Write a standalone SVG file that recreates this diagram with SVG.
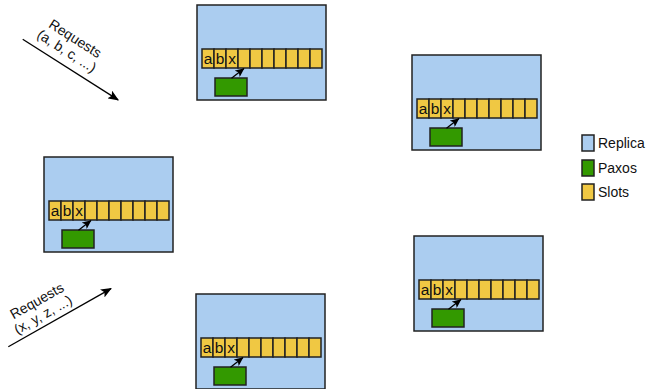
<svg xmlns="http://www.w3.org/2000/svg" width="648" height="389" viewBox="0 0 648 389">
<defs>
<style>
.rep{fill:#abcdf0;stroke:#222;stroke-width:1.5}
.slot{fill:#f0c843;stroke:#222;stroke-width:1.5}
.pax{fill:#339900;stroke:#222;stroke-width:1.5}
.lt{font-family:"Liberation Sans",Arial,sans-serif;font-size:14px;fill:#111}
.st{font-family:"Liberation Sans",Arial,sans-serif;font-size:15.5px;fill:#111;text-anchor:middle}
.ar{stroke:#000;stroke-width:1.3;fill:none}
</style>
<marker id="ah" markerWidth="11" markerHeight="9" refX="10" refY="4.5" orient="auto" markerUnits="userSpaceOnUse">
<path d="M0,0 L11,4.5 L0,9 L2.5,4.5 z" fill="#000"/>
</marker>
<marker id="ahs" markerWidth="9" markerHeight="8" refX="8.5" refY="4" orient="auto" markerUnits="userSpaceOnUse">
<path d="M0,0 L9,4 L0,8 L2,4 z" fill="#000"/>
</marker>
<g id="replicaTpl">
<rect class="rep" x="0" y="0" width="129" height="95"/>
<rect class="slot" x="5" y="44" width="12" height="19"/>
<rect class="slot" x="17" y="44" width="12" height="19"/>
<rect class="slot" x="29" y="44" width="12" height="19"/>
<rect class="slot" x="41" y="44" width="12" height="19"/>
<rect class="slot" x="53" y="44" width="12" height="19"/>
<rect class="slot" x="65" y="44" width="12" height="19"/>
<rect class="slot" x="77" y="44" width="12" height="19"/>
<rect class="slot" x="89" y="44" width="12" height="19"/>
<rect class="slot" x="101" y="44" width="12" height="19"/>
<rect class="slot" x="113" y="44" width="12" height="19"/>
<text class="st" x="11" y="59">a</text>
<text class="st" x="23" y="59">b</text>
<text class="st" x="35" y="59">x</text>
<rect class="pax" x="18" y="73" width="32" height="18"/>
<line class="ar" x1="34.5" y1="73.3" x2="47" y2="63.6" marker-end="url(#ahs)"/>
</g>
</defs>

<g id="replica-top"><use href="#replicaTpl" x="197" y="5"/></g>
<g id="replica-right-top"><use href="#replicaTpl" x="412" y="55"/></g>
<g id="replica-left"><use href="#replicaTpl" x="44" y="157"/></g>
<g id="replica-bottom"><use href="#replicaTpl" x="196" y="294"/></g>
<g id="replica-right-bottom"><use href="#replicaTpl" x="414" y="236"/></g>

<g id="connectors">
<g transform="translate(22.7,39.3) rotate(32.4)">
<line class="ar" x1="0" y1="0" x2="113" y2="0" marker-end="url(#ah)"/>
<text class="lt" x="44" y="-24" text-anchor="middle">Requests</text>
<text class="lt" x="43.5" y="-9" text-anchor="middle">(a, b, c, ...)</text>
</g>
<g transform="translate(8.3,346.7) rotate(-29.5)">
<line class="ar" x1="0" y1="0" x2="118" y2="0" marker-end="url(#ah)"/>
<text class="lt" x="47.5" y="-21" text-anchor="middle">Requests</text>
<text class="lt" x="46" y="-6" text-anchor="middle">(x, y, z, ...)</text>
</g>
</g>

<g id="legend">
<rect class="rep" x="582" y="135" width="12" height="16"/>
<text class="lt" x="598" y="148">Replica</text>
<rect class="pax" x="582" y="160" width="12" height="16"/>
<text class="lt" x="598" y="173">Paxos</text>
<rect class="slot" x="582" y="184" width="12" height="16"/>
<text class="lt" x="598" y="197">Slots</text>
</g>
</svg>
